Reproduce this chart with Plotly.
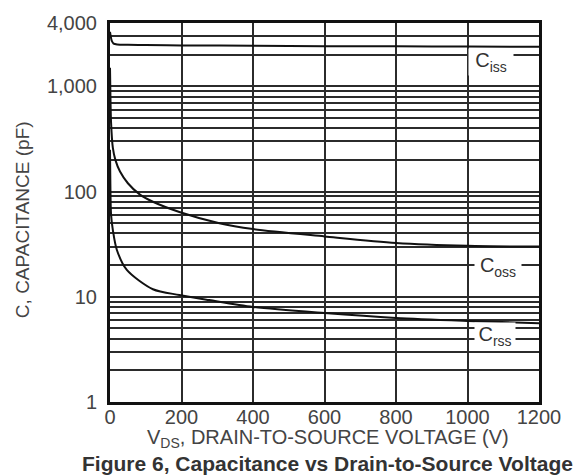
import plotly.graph_objects as go

# Capacitance curves (pF) versus drain-to-source voltage (V)
vds_ciss = [0, 2, 5, 10, 20, 50, 100, 200, 400, 600, 800, 1000, 1200]
ciss = [3300, 3000, 2700, 2550, 2500, 2480, 2470, 2450, 2430, 2410, 2400, 2390, 2380]

vds_coss = [0, 1, 3, 8, 15, 28, 50, 83, 120, 194, 306, 400, 600, 800, 1000, 1200]
coss = [1500, 900, 450, 260, 200, 155, 120, 94, 80, 64, 50, 44, 37.5, 32.5, 30.5, 30]

vds_crss = [0, 1, 3, 8, 19, 47, 120, 194, 278, 400, 600, 800, 1000, 1200]
crss = [250, 120, 60, 43, 28, 18, 11.8, 10.4, 9.3, 8.0, 7.0, 6.3, 5.9, 5.6]

x_ticks = [0, 200, 400, 600, 800, 1000, 1200]
y_ticks = [1, 10, 100, 1000, 4000]
y_ticktext = ["1", "10", "100", "1,000", "4,000"]
y_minor = [2, 3, 4, 5, 6, 7, 8, 9,
           20, 30, 40, 50, 60, 70, 80, 90,
           200, 300, 400, 500, 600, 700, 800, 900,
           2000, 3000]

# curve labels: (text, x in V, log10 of C, box width)
curve_labels = [
    ("C<sub>iss</sub>", 1066, 3.23, 44),
    ("C<sub>oss</sub>", 1086, 1.285, 46),
    ("C<sub>rss</sub>", 1076, 0.624, 40),
]

FONT = "Liberation Sans, Arial, sans-serif"
GRID = "#2b2b2b"

fig = go.Figure()
for xs, ys in [(vds_ciss, ciss), (vds_coss, coss), (vds_crss, crss)]:
    fig.add_trace(go.Scatter(
        x=xs, y=ys, mode="lines",
        line=dict(color="#111", width=2, shape="spline", smoothing=0.8),
        showlegend=False, hoverinfo="skip",
    ))

for text, xv, ylog, w in curve_labels:
    fig.add_annotation(
        x=xv, y=ylog, xref="x", yref="y", text=text, showarrow=False,
        xanchor="center", yanchor="middle",
        font=dict(family=FONT, size=20, color="#333"),
        bgcolor="white", width=w, height=26, borderpad=0,
    )

fig.add_annotation(
    x=-0.205, y=0.48, xref="paper", yref="paper", textangle=-90,
    xanchor="center", yanchor="middle",
    text="C, CAPACITANCE (pF)", showarrow=False,
    font=dict(family=FONT, size=19, color="#444"),
)
fig.add_annotation(
    x=0.508, y=-0.057, xref="paper", yref="paper",
    xanchor="center", yanchor="top",
    text="V<sub>DS</sub>, DRAIN-TO-SOURCE VOLTAGE (V)", showarrow=False,
    font=dict(family=FONT, size=20, color="#444"),
)
fig.add_annotation(
    x=0.506, y=-0.162, xref="paper", yref="paper",
    xanchor="center", yanchor="middle",
    text="<b>Figure 6, Capacitance vs Drain-to-Source Voltage</b>", showarrow=False,
    font=dict(family=FONT, size=21, color="#333"),
)

fig.update_xaxes(
    range=[0, 1200], tickvals=x_ticks, ticktext=[str(v) for v in x_ticks],
    showgrid=True, gridcolor=GRID, gridwidth=1.6,
    showline=True, linecolor="#111", linewidth=3, mirror=True,
    ticks="", zeroline=False, ticklabelstandoff=-5,
    tickfont=dict(family=FONT, size=20, color="#444"),
)
fig.update_yaxes(
    type="log", range=[0, 3.60206],
    tickvals=y_ticks, ticktext=y_ticktext,
    showgrid=True, gridcolor=GRID, gridwidth=1.6,
    minor=dict(tickmode="array", tickvals=y_minor, showgrid=True,
               gridcolor=GRID, gridwidth=1.6, ticks=""),
    showline=True, linecolor="#111", linewidth=3, mirror=True,
    ticks="", zeroline=False, ticklabelstandoff=6,
    tickfont=dict(family=FONT, size=20, color="#444"),
)

fig.update_layout(
    width=576, height=476,
    margin=dict(l=110, r=37, t=15, b=74),
    paper_bgcolor="white", plot_bgcolor="white",
    showlegend=False,
)

fig.write_html("out.html")
